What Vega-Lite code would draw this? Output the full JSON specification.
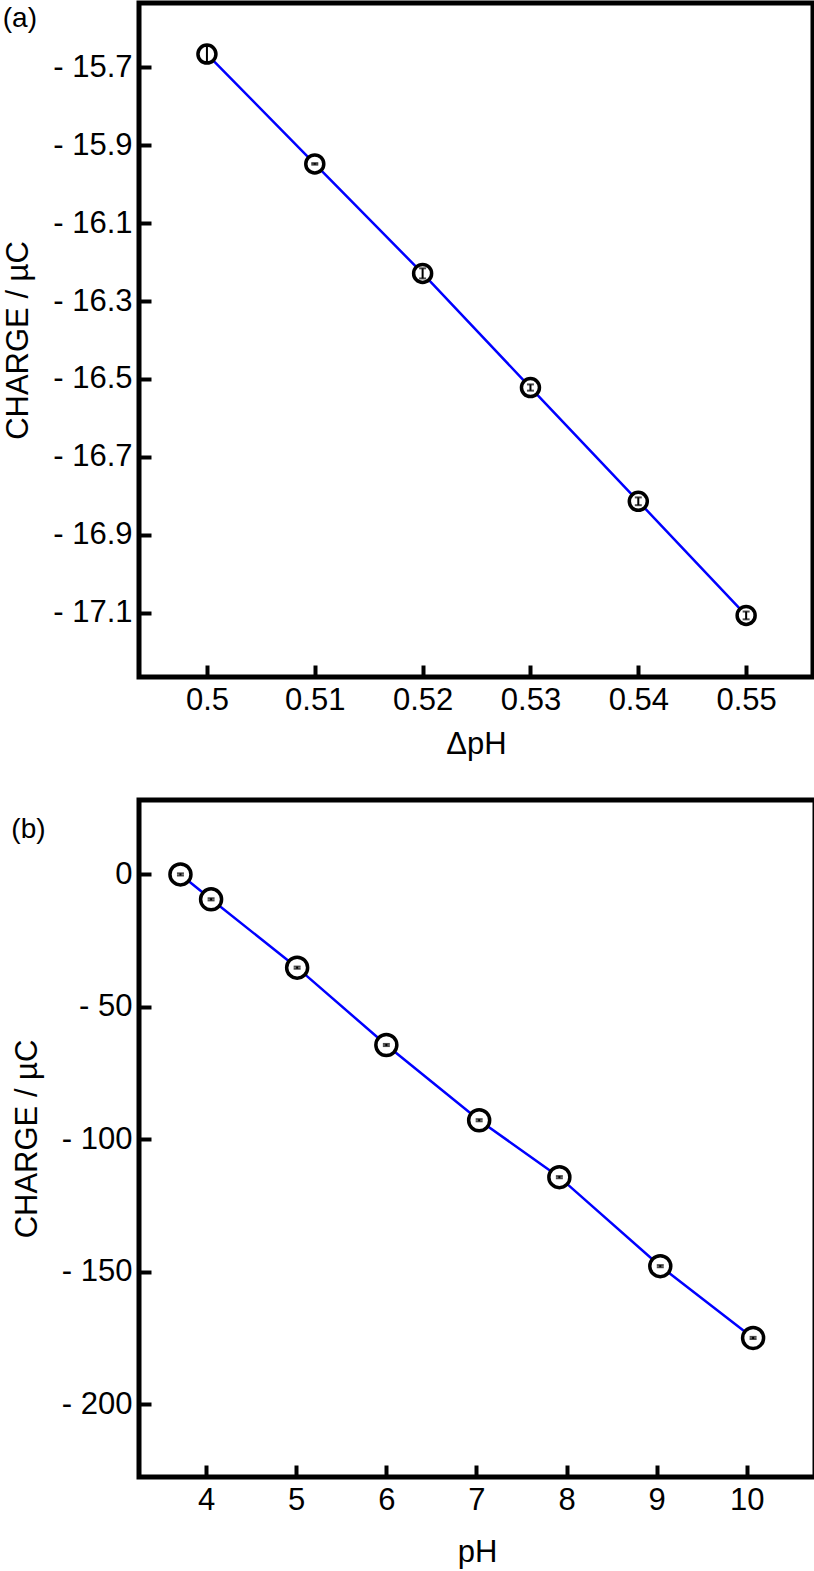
{
  "$schema": "https://vega.github.io/schema/vega-lite/v6.json",
  "padding": {"left": 0, "top": 0, "right": 1, "bottom": 0},
  "background": "white",
  "config": {
    "view": {"stroke": "black", "strokeWidth": 5},
    "font": "Liberation Sans",
    "axis": {
      "domain": false, "grid": false, "ticks": true, "tickSize": -12, "tickWidth": 4, "tickColor": "black",
      "labelFont": "Liberation Sans", "labelFontSize": 31, "labelColor": "black",
      "titleFont": "Liberation Sans", "titleFontSize": 31, "titleFontWeight": "normal", "titleColor": "black",
      "labelOverlap": false, "labelFlush": false
    },
    "axisX": {"labelPadding": 20, "titlePadding": 14},
    "axisY": {"labelPadding": 19, "titlePadding": 18},
    "title": {"anchor": "start", "frame": "bounds", "fontSize": 28, "fontWeight": "normal", "font": "Liberation Sans", "baseline": "top", "offset": -30, "color": "black"}
  },
  "spacing": 35,
  "vconcat": [
    {
      "title": "(a)",
      "width": 674,
      "height": 674,
      "data": {"values": [
        {"dph": 0.50, "q": -15.666, "lo": -15.688, "hi": -15.644},
        {"dph": 0.51, "q": -15.948, "lo": -15.950, "hi": -15.946},
        {"dph": 0.52, "q": -16.229, "lo": -16.242, "hi": -16.216},
        {"dph": 0.53, "q": -16.522, "lo": -16.530, "hi": -16.514},
        {"dph": 0.54, "q": -16.814, "lo": -16.824, "hi": -16.804},
        {"dph": 0.55, "q": -17.107, "lo": -17.117, "hi": -17.097}
      ]},
      "encoding": {
        "x": {"field": "dph", "type": "quantitative",
              "scale": {"domain": [0.4937, 0.5562], "nice": false, "zero": false},
              "axis": {"title": "ΔpH", "values": [0.5, 0.51, 0.52, 0.53, 0.54, 0.55], "format": ".2~f"}}
      },
      "layer": [
        {"mark": {"type": "line", "color": "#0000ff", "strokeWidth": 2.5},
         "encoding": {"y": {"field": "q", "type": "quantitative",
            "scale": {"domain": [-17.265, -15.535], "nice": false, "zero": false},
            "axis": {"title": "CHARGE / µC", "values": [-15.7, -15.9, -16.1, -16.3, -16.5, -16.7, -16.9, -17.1],
                     "labelExpr": "datum.value < 0 ? '- ' + format(-datum.value, '.1f') : format(datum.value, '.1f')"}}}},
        {"mark": {"type": "point", "shape": "circle", "filled": true, "fill": "white", "stroke": "black", "strokeWidth": 3.5, "size": 324, "opacity": 1},
         "encoding": {"y": {"field": "q", "type": "quantitative", "title": "CHARGE / µC"}}},
        {"mark": {"type": "errorbar", "color": "black", "thickness": 2, "ticks": {"size": 7, "thickness": 2}},
         "encoding": {"y": {"field": "lo", "type": "quantitative", "title": "CHARGE / µC"}, "y2": {"field": "hi"}}}
      ]
    },
    {
      "title": {"text": "(b)", "offset": -44},
      "width": 676,
      "height": 677,
      "data": {"values": [
        {"ph": 3.715, "q": 0.0, "lo": -0.4, "hi": 0.4},
        {"ph": 4.055, "q": -9.4, "lo": -9.8, "hi": -9.0},
        {"ph": 5.01, "q": -35.2, "lo": -35.6, "hi": -34.8},
        {"ph": 6.0, "q": -64.4, "lo": -64.8, "hi": -64.0},
        {"ph": 7.03, "q": -92.8, "lo": -93.2, "hi": -92.4},
        {"ph": 7.92, "q": -114.3, "lo": -114.7, "hi": -113.9},
        {"ph": 9.04, "q": -147.9, "lo": -148.3, "hi": -147.5},
        {"ph": 10.07, "q": -175.0, "lo": -175.4, "hi": -174.6}
      ]},
      "encoding": {
        "x": {"field": "ph", "type": "quantitative",
              "scale": {"domain": [3.255, 10.757], "nice": false, "zero": false},
              "axis": {"title": "pH", "values": [4, 5, 6, 7, 8, 9, 10], "format": "d", "titlePadding": 22}}
      },
      "layer": [
        {"mark": {"type": "line", "color": "#0000ff", "strokeWidth": 2.5},
         "encoding": {"y": {"field": "q", "type": "quantitative",
            "scale": {"domain": [-227.5, 28.1], "nice": false, "zero": false},
            "axis": {"title": "CHARGE / µC", "values": [0, -50, -100, -150, -200],
                     "labelExpr": "datum.value < 0 ? '- ' + format(-datum.value, 'd') : '0'"}}}},
        {"mark": {"type": "point", "shape": "circle", "filled": true, "fill": "white", "stroke": "black", "strokeWidth": 3.5, "size": 441, "opacity": 1},
         "encoding": {"y": {"field": "q", "type": "quantitative", "title": "CHARGE / µC"}}},
        {"mark": {"type": "errorbar", "color": "black", "thickness": 2, "ticks": {"size": 7, "thickness": 2}},
         "encoding": {"y": {"field": "lo", "type": "quantitative", "title": "CHARGE / µC"}, "y2": {"field": "hi"}}}
      ]
    }
  ]
}
